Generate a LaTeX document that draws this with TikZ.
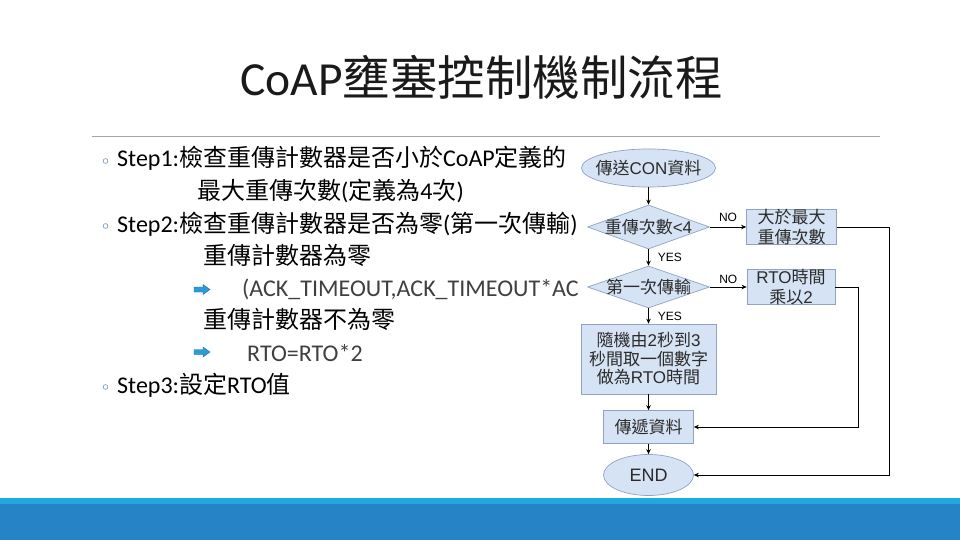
\documentclass[tikz,border=0pt]{standalone}
\usepackage{fontspec}
\setmainfont{Carlito}
\newfontfamily\cjk{Noto Sans CJK TC}
\newfontfamily\arl{Liberation Sans}
\usetikzlibrary{shapes.geometric,arrows.meta}
\definecolor{flowfill}{HTML}{D6E3F4}
\definecolor{flowline}{HTML}{8EA4C2}
\definecolor{bandlight}{HTML}{22A8E0}
\definecolor{banddark}{HTML}{2683C6}
\definecolor{rulegray}{HTML}{A6A6A6}
\definecolor{iconblue}{HTML}{2E9AD6}
\definecolor{icondark}{HTML}{1F6FA8}
\definecolor{subgray}{HTML}{404040}
\definecolor{flowtext}{HTML}{2B2B2B}
\definecolor{bulletring}{HTML}{6F8FAF}
\definecolor{titleblack}{HTML}{1A1A1A}
\begin{document}
\begin{tikzpicture}[x=1pt,y=-1pt,
  bodytext/.style={anchor=base west, inner sep=0, font=\fontsize{24}{28}\selectfont},
  flowbox/.style={draw=flowline, fill=flowfill, line width=0.7pt, inner sep=0, align=center, text=flowtext, font=\arl\fontsize{17}{19.5}\selectfont},
  flowell/.style={ellipse, draw=flowline, fill=flowfill, line width=0.7pt, inner sep=0},
  flowdia/.style={diamond, draw=flowline, fill=flowfill, line width=0.7pt, inner sep=0},
  flowlbl/.style={font=\arl\fontsize{17}{19}\selectfont, text=flowtext, inner sep=0},
  arr/.style={-{Stealth[length=5pt,width=4.5pt]}, line width=0.8pt},
  yesno/.style={font=\arl\fontsize{12}{14}\selectfont, inner sep=0}]
\useasboundingbox (0,0) rectangle (960,540);
\fill[white] (0,0) rectangle (960,540);

% title and rule
\node[anchor=base, inner sep=0, font=\fontsize{47.5}{52}\selectfont, text=titleblack] (title) at (481.5,96) {CoAP{\cjk 壅塞控制機制流程}};
\draw[rulegray, line width=1pt] (92,136.5) -- (880,136.5);

% bullets
\foreach \yy in {161,226,387} {\draw[bulletring, line width=0.6pt] (105.5,\yy) circle[radius=2.4pt];}
% arrow icons
\foreach \yy in {289.5,352} {\filldraw[fill=iconblue, draw=icondark, line width=0.4pt] (194,{\yy-2.5}) -- (203,{\yy-2.5}) -- (203,{\yy-5}) -- (210,\yy) -- (203,{\yy+5}) -- (203,{\yy+2.5}) -- (194,{\yy+2.5}) -- cycle;}

% body text
\node[bodytext] (l1) at (117,167) {Step1:{\cjk 檢查重傳計數器是否小於}CoAP{\cjk 定義的}};
\node[bodytext] (l2) at (197,199.5) {{\cjk 最大重傳次數}({\cjk 定義為}4{\cjk 次})};
\node[bodytext] (l3) at (117,232) {Step2:{\cjk 檢查重傳計數器是否為零}({\cjk 第一次傳輸})};
\node[bodytext] (l4) at (203,264) {{\cjk 重傳計數器為零}};
\begin{scope}
\clip (0,0) rectangle (579,540);
\node[bodytext, text=subgray] (l5) at (242,296.5) {(ACK\_TIMEOUT,ACK\_TIMEOUT*AC};
\end{scope}
\node[bodytext] (l6) at (203,328.5) {{\cjk 重傳計數器不為零}};
\node[bodytext, text=subgray] (l7) at (247,361) {RTO=RTO*2};
\node[bodytext] (l8) at (117,393) {Step3:{\cjk 設定}RTO{\cjk 值}};

% flowchart nodes
\node[flowell, minimum width=134, minimum height=38, label={[flowlbl]center:{{\cjk 傳送}CON{\cjk 資料}}}] (e1) at (648.5,168) {};
\node[flowdia, minimum width=122, minimum height=44, label={[flowlbl]center:{{\cjk 重傳次數}<4}}] (d1) at (648.5,227) {};
\node[flowbox, minimum width=90, minimum height=33] (b1) at (791.5,227) {{\cjk 大於最大}\\{\cjk 重傳次數}};
\node[flowdia, minimum width=122, minimum height=42, label={[flowlbl]center:{{\cjk 第一次傳輸}}}] (d2) at (648.5,287) {};
\node[flowbox, minimum width=88, minimum height=31] (b2) at (791,287) {RTO{\cjk 時間}\\{\cjk 乘以}2};
\node[flowbox, minimum width=135, minimum height=70, font=\arl\fontsize{17}{18.5}\selectfont] (b3) at (648.5,359) {{\cjk 隨機由}2{\cjk 秒到}3\\{\cjk 秒間取一個數字}\\{\cjk 做為}RTO{\cjk 時間}};
\node[flowbox, minimum width=90, minimum height=33] (b4) at (648.5,427) {{\cjk 傳遞資料}};
\node[flowell, minimum width=90, minimum height=41, label={[flowlbl, font=\arl\fontsize{18}{20}\selectfont]center:END}] (end) at (648.5,475) {};

\coordinate (c1) at (889,227);
\coordinate (c2) at (858,287);

% connectors
\draw[arr] (e1.south) -- (d1.north);
\draw[arr] (d1.east) -- node[yesno, above=5pt]{NO} (b1.west);
\draw[arr] (b1.east) -- (c1) |- (end.east);
\draw[arr] (d1.south) -- node[yesno, right=9pt]{YES} (d2.north);
\draw[arr] (d2.east) -- node[yesno, above=3pt]{NO} (b2.west);
\draw[arr] (b2.east) -- (c2) |- (b4.east);
\draw[arr] (d2.south) -- node[yesno, right=9pt]{YES} (b3.north);
\draw[arr] (b3.south) -- (b4.north);
\draw[arr] (b4.south) -- (end.north);

% bottom band
\fill[bandlight] (0,497.5) rectangle (960,504);
\fill[banddark] (0,504) rectangle (960,540);
\end{tikzpicture}
\end{document}
